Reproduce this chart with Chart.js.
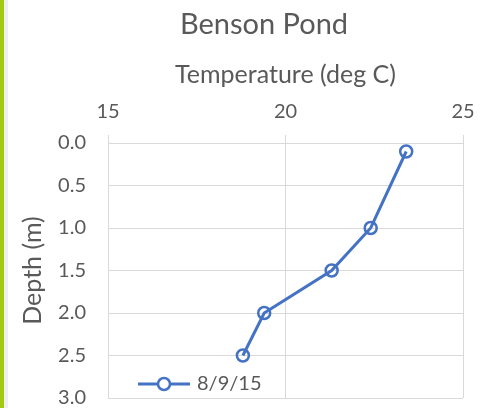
<!DOCTYPE html>
<html>
<head>
<meta charset="utf-8">
<script src="https://cdn.jsdelivr.net/npm/chart.js@4"></script>
<style>
  html, body { margin: 0; padding: 0; background: #fff; }
  #wrap { position: relative; width: 489px; height: 408px; }
  #strip { position: absolute; left: 0; top: 0; width: 4px; height: 408px; background: #a4c912; }
  #strip2 { position: absolute; left: 4px; top: 0; width: 4px; height: 408px; background: #efefef; }
</style>
</head>
<body>
<div id="wrap">
  <canvas id="chart" width="489" height="408"></canvas>
  <div id="strip"></div>
  <div id="strip2"></div>
</div>
<script>
// data
var seriesName = "8/9/15";
var temperatures = [23.4, 22.4, 21.3, 19.4, 18.8];
var depths = [0.1, 1.0, 1.5, 2.0, 2.5];
var tempTicks = [15, 20, 25];
var depthTicks = [0, 0.5, 1, 1.5, 2, 2.5, 3];

var gray = "#595959";
var gridColor = "#d9d9d9";
var blue = "#4472c4";
var fontFamily = "Lato, 'Open Sans', sans-serif";

var points = temperatures.map(function (t, i) {
  return { x: t, y: depths[i] };
});

// chart title, drawn at the spot Excel put it
var titlePlugin = {
  id: "bensonTitle",
  afterDraw: function (chart) {
    var ctx = chart.ctx;
    ctx.save();
    ctx.fillStyle = gray;
    ctx.font = "29px " + fontFamily;
    ctx.textAlign = "center";
    ctx.textBaseline = "middle";
    ctx.fillText("Benson Pond", 264, 25);
    ctx.restore();
  }
};

// legend sits inside the plot, bottom left
var legendPlugin = {
  id: "insideLegend",
  afterDraw: function (chart) {
    var ctx = chart.ctx;
    var ds = chart.data.datasets[0];
    var y = chart.chartArea.bottom - 14;
    var x0 = chart.chartArea.left + 30;
    ctx.save();
    ctx.strokeStyle = ds.borderColor;
    ctx.lineWidth = ds.borderWidth;
    ctx.beginPath();
    ctx.moveTo(x0, y);
    ctx.lineTo(x0 + 52, y);
    ctx.stroke();
    ctx.fillStyle = "#fff";
    ctx.lineWidth = ds.pointBorderWidth;
    ctx.beginPath();
    ctx.arc(x0 + 26, y, ds.pointRadius, 0, Math.PI * 2);
    ctx.fill();
    ctx.stroke();
    ctx.fillStyle = gray;
    ctx.font = "20px " + fontFamily;
    ctx.textAlign = "left";
    ctx.textBaseline = "middle";
    ctx.fillText(ds.label, x0 + 59, y);
    ctx.restore();
  }
};

new Chart(document.getElementById("chart"), {
  type: "line",
  data: {
    datasets: [
      {
        label: seriesName,
        data: points,
        borderColor: blue,
        borderWidth: 3,
        pointRadius: 6,
        pointBorderWidth: 2.5,
        pointBackgroundColor: "rgba(255,255,255,0)",
        pointBorderColor: blue,
        tension: 0,
        fill: false
      }
    ]
  },
  options: {
    responsive: false,
    animation: false,
    layout: { padding: { left: 0, top: 0, right: 26, bottom: 10 } },
    plugins: {
      legend: { display: false },
      title: { display: false },
      tooltip: { enabled: false }
    },
    scales: {
      x: {
        type: "linear",
        position: "top",
        min: tempTicks[0],
        max: tempTicks[tempTicks.length - 1],
        afterBuildTicks: function (scale) {
          scale.ticks = tempTicks.map(function (v) { return { value: v }; });
        },
        afterFit: function (scale) {
          scale.height = 143;
          scale.paddingLeft = 0;
          scale.paddingRight = 0;
        },
        grid: { color: gridColor, tickLength: 8, tickColor: gridColor },
        border: { color: gridColor },
        ticks: { color: gray, padding: 11, font: { family: fontFamily, size: 20 } },
        title: {
          display: true,
          text: "Temperature (deg C)",
          color: gray,
          font: { family: fontFamily, size: 25 },
          padding: { top: 60, bottom: 0 }
        }
      },
      y: {
        type: "linear",
        reverse: true,
        min: depthTicks[0],
        max: depthTicks[depthTicks.length - 1],
        afterBuildTicks: function (scale) {
          scale.ticks = depthTicks.map(function (v) { return { value: v }; });
        },
        afterFit: function (scale) {
          scale.width = 108;
          scale.paddingTop = 0;
          scale.paddingBottom = 0;
        },
        grid: { color: gridColor, drawTicks: false },
        border: { color: gridColor },
        ticks: {
          color: gray,
          padding: 22,
          font: { family: fontFamily, size: 20 },
          callback: function (v) { return Number(v).toFixed(1); }
        },
        title: {
          display: true,
          text: "Depth (m)",
          color: gray,
          font: { family: fontFamily, size: 25 },
          padding: { top: 18, bottom: 0 }
        }
      }
    }
  },
  plugins: [titlePlugin, legendPlugin]
});
</script>
</body>
</html>
